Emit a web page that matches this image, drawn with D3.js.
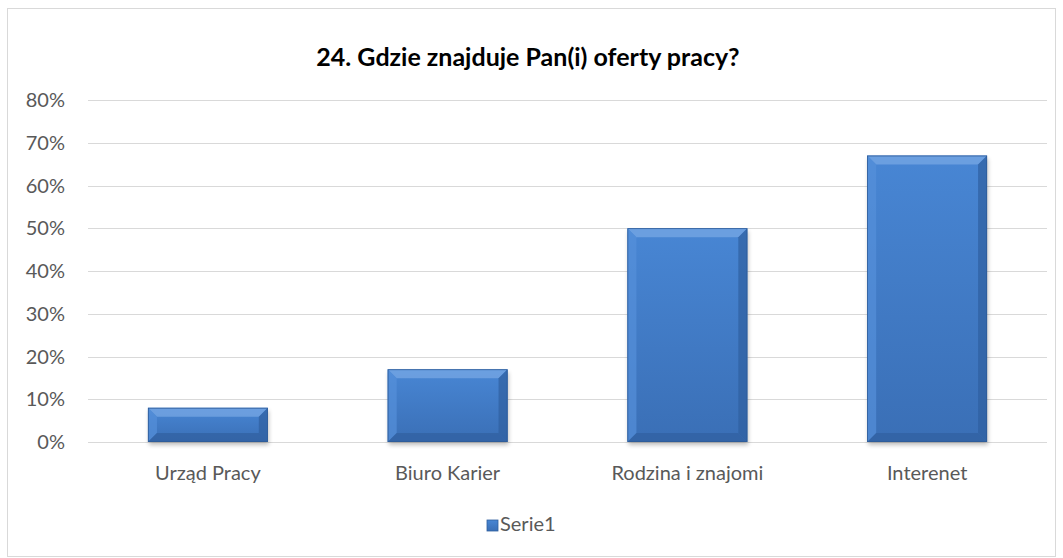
<!DOCTYPE html>
<html>
<head>
<meta charset="utf-8">
<style>
  body { margin: 0; background: #fff; }
  text { font-family: Lato, "Open Sans", sans-serif; }
</style>
</head>
<body>
<div id="chart"></div>
<script src="https://cdn.jsdelivr.net/npm/d3@7"></script>
<script>
var categories = ['Urząd Pracy', 'Biuro Karier', 'Rodzina i znajomi', 'Interenet'];
var values = [0.08, 0.17, 0.50, 0.67];
var ticks = [0, 0.1, 0.2, 0.3, 0.4, 0.5, 0.6, 0.7, 0.8];
var seriesName = 'Serie1';
var title = '24. Gdzie znajduje Pan(i) oferty pracy?';

var width = 1063, height = 558;
var margin = {top: 100, right: 16, bottom: 116, left: 88};

var svg = d3.select('#chart').append('svg')
    .attr('width', width)
    .attr('height', height);

var defs = svg.append('defs');
var grad = defs.append('linearGradient')
    .attr('id', 'barGrad')
    .attr('x1', 0).attr('y1', 0).attr('x2', 0).attr('y2', 1);
grad.append('stop').attr('offset', '0%').attr('stop-color', '#4886d4');
grad.append('stop').attr('offset', '100%').attr('stop-color', '#3a6fb6');

var blur = defs.append('filter').attr('id', 'shadow')
    .attr('x', '-10%').attr('y', '-10%').attr('width', '120%').attr('height', '120%');
blur.append('feGaussianBlur').attr('stdDeviation', 2);

// outer frame
svg.append('rect')
    .attr('x', 7.5).attr('y', 8.5)
    .attr('width', width - 15).attr('height', height - 10)
    .attr('fill', '#fff')
    .attr('stroke', '#d9d9d9');

var x = d3.scaleBand()
    .domain(categories)
    .range([margin.left, width - margin.right])
    .paddingInner(0.5)
    .paddingOuter(0.25);

var y = d3.scaleLinear()
    .domain([0, 0.8])
    .range([height - margin.bottom, margin.top]);

// gridlines
svg.append('g').selectAll('line')
    .data(ticks)
    .enter().append('line')
    .attr('x1', margin.left).attr('x2', width - margin.right)
    .attr('y1', function(d){ return Math.round(y(d)) + 0.5; })
    .attr('y2', function(d){ return Math.round(y(d)) + 0.5; })
    .attr('stroke', '#d9d9d9');

// y labels
svg.append('g').selectAll('text')
    .data(ticks)
    .enter().append('text')
    .attr('x', 65)
    .attr('y', function(d){ return y(d); })
    .attr('dy', '0.36em')
    .attr('text-anchor', 'end')
    .attr('fill', '#595959')
    .style('font-size', '20px')
    .text(d3.format('.0%'));

// bars
var bars = svg.append('g').selectAll('g')
    .data(values)
    .enter().append('g');

var bw = x.bandwidth(), bev = 9;

bars.append('rect')
    .attr('x', function(d, i){ return x(categories[i]) + 1; })
    .attr('y', function(d){ return y(d) + 3; })
    .attr('width', bw)
    .attr('height', function(d){ return y(0) - y(d); })
    .attr('fill', '#000')
    .attr('opacity', 0.25)
    .attr('filter', 'url(#shadow)');

bars.append('rect')
    .attr('x', function(d, i){ return x(categories[i]); })
    .attr('y', function(d){ return y(d); })
    .attr('width', bw)
    .attr('height', function(d){ return y(0) - y(d); })
    .attr('fill', 'url(#barGrad)');

// bevel edges
function bevel(d, i, side) {
    var x0 = x(categories[i]), x1 = x0 + bw, y0 = y(d), y1 = y(0);
    var b = Math.min(bev, (y1 - y0) / 2);
    if (side === 'top') return [[x0, y0], [x1, y0], [x1 - b, y0 + b], [x0 + b, y0 + b]];
    if (side === 'left') return [[x0, y0], [x0 + b, y0 + b], [x0 + b, y1 - b], [x0, y1]];
    if (side === 'right') return [[x1, y0], [x1, y1], [x1 - b, y1 - b], [x1 - b, y0 + b]];
    return [[x0, y1], [x0 + b, y1 - b], [x1 - b, y1 - b], [x1, y1]];
}
var bevelFill = {top: '#7aaae6', left: '#5590da', right: '#2f5fa0', bottom: '#30609f'};
['top', 'left', 'right', 'bottom'].forEach(function(side){
    bars.append('path')
        .attr('d', function(d, i){ return 'M' + bevel(d, i, side).join('L') + 'Z'; })
        .attr('fill', bevelFill[side])
        .attr('opacity', 0.7);
});

bars.append('rect')
    .attr('x', function(d, i){ return x(categories[i]) + 0.4; })
    .attr('y', function(d){ return y(d) + 0.4; })
    .attr('width', bw - 0.8)
    .attr('height', function(d){ return y(0) - y(d) - 0.8; })
    .attr('fill', 'none')
    .attr('stroke', '#2e5c99')
    .attr('stroke-width', 0.8);

// x labels
svg.append('g').selectAll('text')
    .data(categories)
    .enter().append('text')
    .attr('x', function(d){ return x(d) + bw / 2; })
    .attr('y', 480)
    .attr('text-anchor', 'middle')
    .attr('fill', '#595959')
    .style('font-size', '20px')
    .text(function(d){ return d; });

// title
svg.append('text')
    .attr('x', 528)
    .attr('y', 66)
    .attr('text-anchor', 'middle')
    .attr('fill', '#000')
    .style('font-size', '25px')
    .style('font-weight', 'bold')
    .text(title);

// legend
var lg = svg.append('g').attr('transform', 'translate(487,520)');
lg.append('rect').attr('width', 11).attr('height', 11)
    .attr('fill', 'url(#barGrad)').attr('stroke', '#2f5f9e').attr('stroke-width', 0.8);
lg.append('text').attr('x', 13).attr('y', 11)
    .attr('fill', '#595959')
    .style('font-size', '20px')
    .text(seriesName);
</script>
</body>
</html>
